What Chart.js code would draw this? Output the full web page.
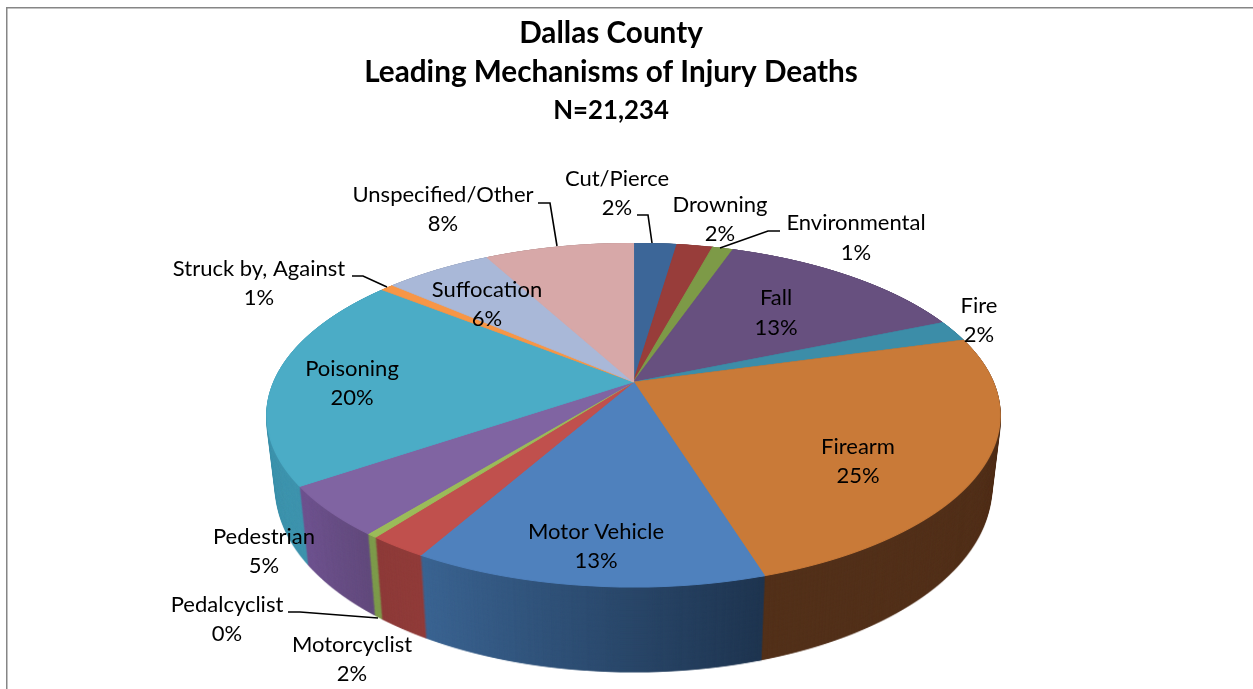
<!DOCTYPE html>
<html><head><meta charset="utf-8">
<style>html,body{margin:0;padding:0;background:#fff;overflow:hidden}canvas{display:block}</style>
<script src="https://cdn.jsdelivr.net/npm/chart.js@4"></script>
</head><body><canvas id="c" width="1253" height="689"></canvas>
<script>
// ---- data ----
const categories = ['Cut/Pierce','Drowning','Environmental','Fall','Fire','Firearm','Motor Vehicle','Motorcyclist','Pedalcyclist','Pedestrian','Poisoning','Struck by, Against','Suffocation','Unspecified/Other'];
const shares = [2.3,1.9,1.1,13.4,2.0,24.5,13.0,2.2,0.4,4.7,20.2,0.7,5.7,7.9];
const titleLines = ['Dallas County','Leading Mechanisms of Injury Deaths'];
const subtitleLine = 'N=21,234';
// ---- styles ----
const topColors = ['#3c6698','#983d3a','#7d9a47','#67507f','#3c8da8','#c97a38','#4f81bd','#c0504d','#9bbb59','#8064a2','#4bacc6','#f79646','#a9b8d8','#d7a8a8'];
const wallColors = [['#2c4c72','#2c4c72'],['#722e2c','#722e2c'],['#5e7435','#5e7435'],['#4d3c5f','#4d3c5f'],['#2d6a7e','#2d6a7e'],['#53311a','#52301a'],['#3b6492','#1f3550'],['#8e3b39','#913c3a'],['#7d9b4b','#7d9b4b'],['#6f5390','#624a7c'],['#3f94ae','#3f94ae'],['#b9713a','#b9713a'],['#7f8aa2','#7f8aa2'],['#a17e7e','#a17e7e']];
// label layout: centre x, first-line y, second-line y
const labelLayout = [[617,179,208],[720,205,234],[856,223,253],[776,298,328],[979,306,335],[858,447,476],[596,532,561],[352,645,674],[227,605,634],[264,537,566],[352,369,398],[259,269,298],[487,290,319],[443,195,224]];
const leaderLines = [
  [[637,215],[648,215],[652,243]],
  [[780,231],[768,231],[720,248]],
  [[538,203],[550,203],[557,246]],
  [[352,276],[363,276],[387,287]],
  [[288,612],[300,612],[378,618]]
];
// perspective of the pie's top face
const apex = {x:633.5, y:382}, persp = {a:165.7, b:359.7, k:0.192};
// wall extrusion
const wall = {steps:100, sx:0.025, sy:0.068, dy:44.9};
const LABEL_FONT = '22px Lato', W = 1253, H = 689;

function drawWarped(ctx, arcs, styler){
  for (let yo = 243; yo < 590; yo++){
    const yc = yo + 0.5, dy = yc - apex.y;
    const den = persp.a + dy*persp.k, Y = dy/den, w = 1 - persp.k*Y;
    ctx.save();
    ctx.beginPath(); ctx.rect(0,yo,W,1); ctx.clip();
    arcs.forEach((arc,i)=>{
      const R = arc.outerRadius, sx = persp.b/w/R, sy = den*den/persp.a/R;
      ctx.setTransform(sx,0,0,sy, apex.x - arc.x*sx, yc - (arc.y + Y*R)*sy);
      const saved = arc.options;
      const col = styler(i,arc);
      arc.options = Object.assign({}, saved, {backgroundColor:col, borderColor:col, borderWidth:1});
      arc.draw(ctx);
      arc.options = saved;
    });
    ctx.restore();
  }
}

const pie3d = {
  id:'pie3d',
  beforeDraw(chart){
    const c = chart.ctx;
    c.save(); c.fillStyle='#fff'; c.fillRect(0,0,W,H);
    c.fillStyle='#868686'; c.fillRect(6,7,W-6,1.5); c.fillRect(6,7,1.5,H-7); c.restore();
  },
  beforeDatasetDraw(chart){
    const arcs = chart.getDatasetMeta(0).data, ctx = chart.ctx;
    const off = document.createElement('canvas'); off.width=W; off.height=H;
    const oc = off.getContext('2d');
    const grads = arcs.map((arc,i)=>{
      const R = arc.outerRadius;
      const xa = arc.x + R*Math.cos(arc.startAngle), xb = arc.x + R*Math.cos(arc.endAngle);
      const g = oc.createLinearGradient(Math.min(xa,xb),0,Math.max(xa,xb)+0.01,0);
      g.addColorStop(0,wallColors[i][0]); g.addColorStop(1,wallColors[i][1]);
      return g;
    });
    drawWarped(oc, arcs, i=>grads[i]);
    for (let s = wall.steps; s >= 0; s--){
      const t = s/wall.steps, fx = 1 - wall.sx*t, fy = 1 + wall.sy*t;
      ctx.drawImage(off, apex.x*(1-fx), wall.dy*t, W*fx, H*fy);
    }
    drawWarped(ctx, arcs, i=>topColors[i]);
    return false;
  },
  afterDraw(chart){
    const c = chart.ctx;
    c.save();
    c.strokeStyle='#000'; c.lineWidth=1.6;
    leaderLines.forEach(l=>{
      c.beginPath(); l.forEach((p,i)=> i? c.lineTo(p[0],p[1]) : c.moveTo(p[0],p[1])); c.stroke();
    });
    c.fillStyle='#000'; c.font=LABEL_FONT; c.textAlign='center'; c.textBaseline='middle';
    categories.forEach((name,i)=>{
      const [x,y1,y2] = labelLayout[i];
      c.fillText(name,x,y1);
      c.fillText(Math.round(shares[i])+'%',x,y2);
    });
    c.restore();
  }
};

new Chart(document.getElementById('c'),{
  type:'pie',
  data:{labels:categories,datasets:[{data:shares,backgroundColor:topColors,borderWidth:0}]},
  options:{
    responsive:false, animation:false,
    layout:{padding:{left:0,right:31,top:14,bottom:0}},
    plugins:{
      legend:{display:false}, tooltip:{enabled:false},
      title:{display:true,text:titleLines,color:'#000',font:{family:'Lato',size:29.7,weight:'bold',lineHeight:1.32},padding:{top:0,bottom:0}},
      subtitle:{display:true,text:subtitleLine,color:'#000',font:{family:'Lato',size:25.8,weight:'bold',lineHeight:1.42},padding:{top:0,bottom:0}}
    }
  },
  plugins:[pie3d]
});
</script></body></html>
